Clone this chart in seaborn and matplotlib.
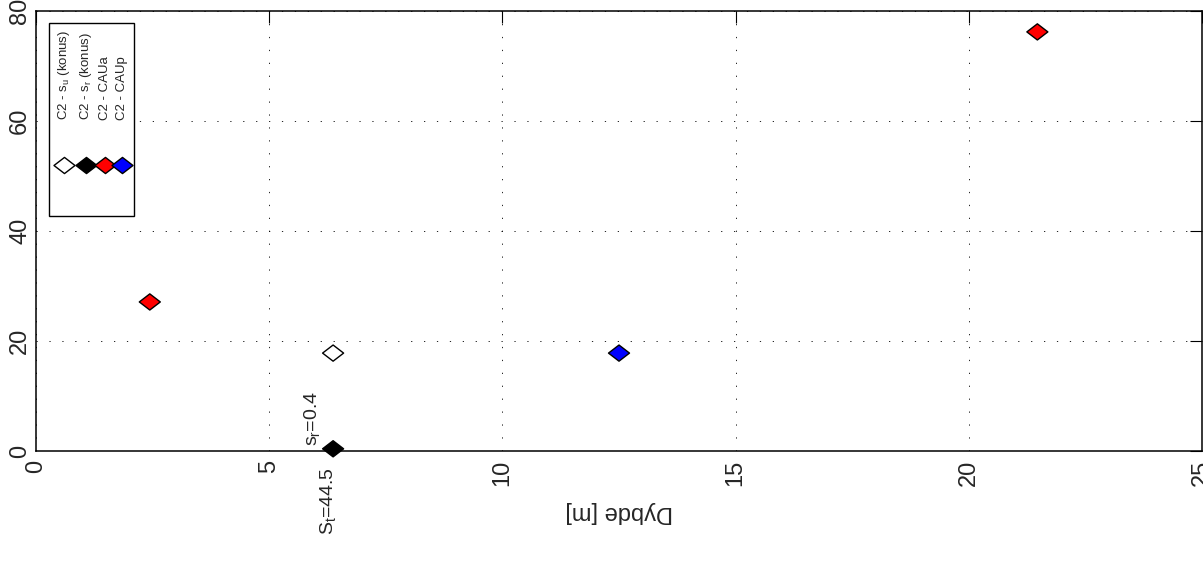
import matplotlib
matplotlib.use("Agg")
import numpy as np
import pandas as pd
import seaborn as sns
import matplotlib.pyplot as plt
from matplotlib.path import Path
from matplotlib.patches import Rectangle

# ---- data ----
series_names = ["C2 - s$_u$ (konus)", "C2 - s$_r$ (konus)", "C2 - CAUa", "C2 - CAUp"]
series_colors = ["white", "black", "red", "blue"]
point_series = ["C2 - s$_u$ (konus)", "C2 - s$_r$ (konus)", "C2 - CAUa", "C2 - CAUa", "C2 - CAUp"]
point_depth = [6.37, 6.37, 2.44, 21.47, 12.5]
point_value = [17.8, 0.4, 27.1, 76.2, 17.8]
x_ticks = [0, 5, 10, 15, 20, 25]
y_ticks = [0, 20, 40, 60, 80]
x_label = "Dybde [m]"
note_sr = "s$_r$=0.4"
note_st = "S$_t$=44.5"
note_depth = 6.37
note_value = 0.4

sns.set_style("white")
plt.rcParams["font.family"] = ["Liberation Sans", "DejaVu Sans"]
plt.rcParams["mathtext.default"] = "regular"

df = pd.DataFrame({"series": point_series, "depth": point_depth, "value": point_value})

diamond = Path([(0, 1), (1.3, 0), (0, -1), (-1.3, 0), (0, 1)],
               [Path.MOVETO, Path.LINETO, Path.LINETO, Path.LINETO, Path.CLOSEPOLY])

fig = plt.figure(figsize=(12.03, 5.63), dpi=100)
ax = fig.add_axes([36 / 1203, 1 - 451 / 563, 1166 / 1203, 440 / 563])

sns.scatterplot(data=df, x="depth", y="value", hue="series", hue_order=series_names,
                palette=dict(zip(series_names, series_colors)), marker=diamond, s=229,
                edgecolor="black", linewidth=1.0, legend=False, clip_on=False, zorder=5, ax=ax)

ax.set_xlim(0, 25)
ax.set_ylim(0, 80)
ax.set_xticks(x_ticks)
ax.set_yticks(y_ticks)
ax.set_xticklabels([str(t) for t in x_ticks], rotation=90, fontsize=17)
ax.set_yticklabels([str(t) for t in y_ticks], rotation=90, fontsize=17, va="center")
ax.tick_params(axis="both", direction="in", length=8.6, width=0.8, top=True, right=True,
               color="black")
ax.tick_params(axis="x", pad=6.5)
ax.tick_params(axis="y", pad=3.5)
for s in ax.spines.values():
    s.set_visible(True)
    s.set_color("black")
    s.set_linewidth(1.1)

ax.grid(True, color="black", linestyle=(0, (1.5, 14)), linewidth=0.6)
ax.set_axisbelow(True)

ax.set_xlabel(x_label, rotation=180, fontsize=17)
ax.set_ylabel("")
ax.xaxis.label.set_va("center")
ax.xaxis.set_label_coords(0.5, -0.139)

# annotations
ax.annotate(note_sr, xy=(note_depth, note_value), xytext=(-7.9, 2.2), textcoords="offset points",
            rotation=90, ha="right", va="bottom", fontsize=14)
ax.annotate(note_st, xy=(note_depth, 0), xytext=(-4, -11.5), textcoords="offset points",
            rotation=90, ha="center", va="top", fontsize=14, annotation_clip=False)

# legend (rotated, drawn in axes coordinates)
lx0, lx1 = (49 - 36) / 1166, (134 - 36) / 1166
ly0, ly1 = (451 - 216) / 440, (451 - 23) / 440
ax.add_patch(Rectangle((lx0, ly0), lx1 - lx0, ly1 - ly0, transform=ax.transAxes,
                       facecolor="white", edgecolor="black", linewidth=1.0, zorder=6))
leg_x = [(64 - 36) / 1166, (86 - 36) / 1166, (105 - 36) / 1166, (122 - 36) / 1166]
leg_my = (451 - 165) / 440
leg_ty = (451 - 120) / 440
for xx, name, col in zip(leg_x, series_names, series_colors):
    ax.scatter([xx], [leg_my], transform=ax.transAxes, marker=diamond, s=229,
               facecolor=col, edgecolor="black", linewidth=1.0, zorder=7, clip_on=False)
    ax.text(xx, leg_ty, name, transform=ax.transAxes, rotation=90, ha="center", va="bottom",
            fontsize=9.5, zorder=8)

fig.savefig("out.png", dpi=100)
